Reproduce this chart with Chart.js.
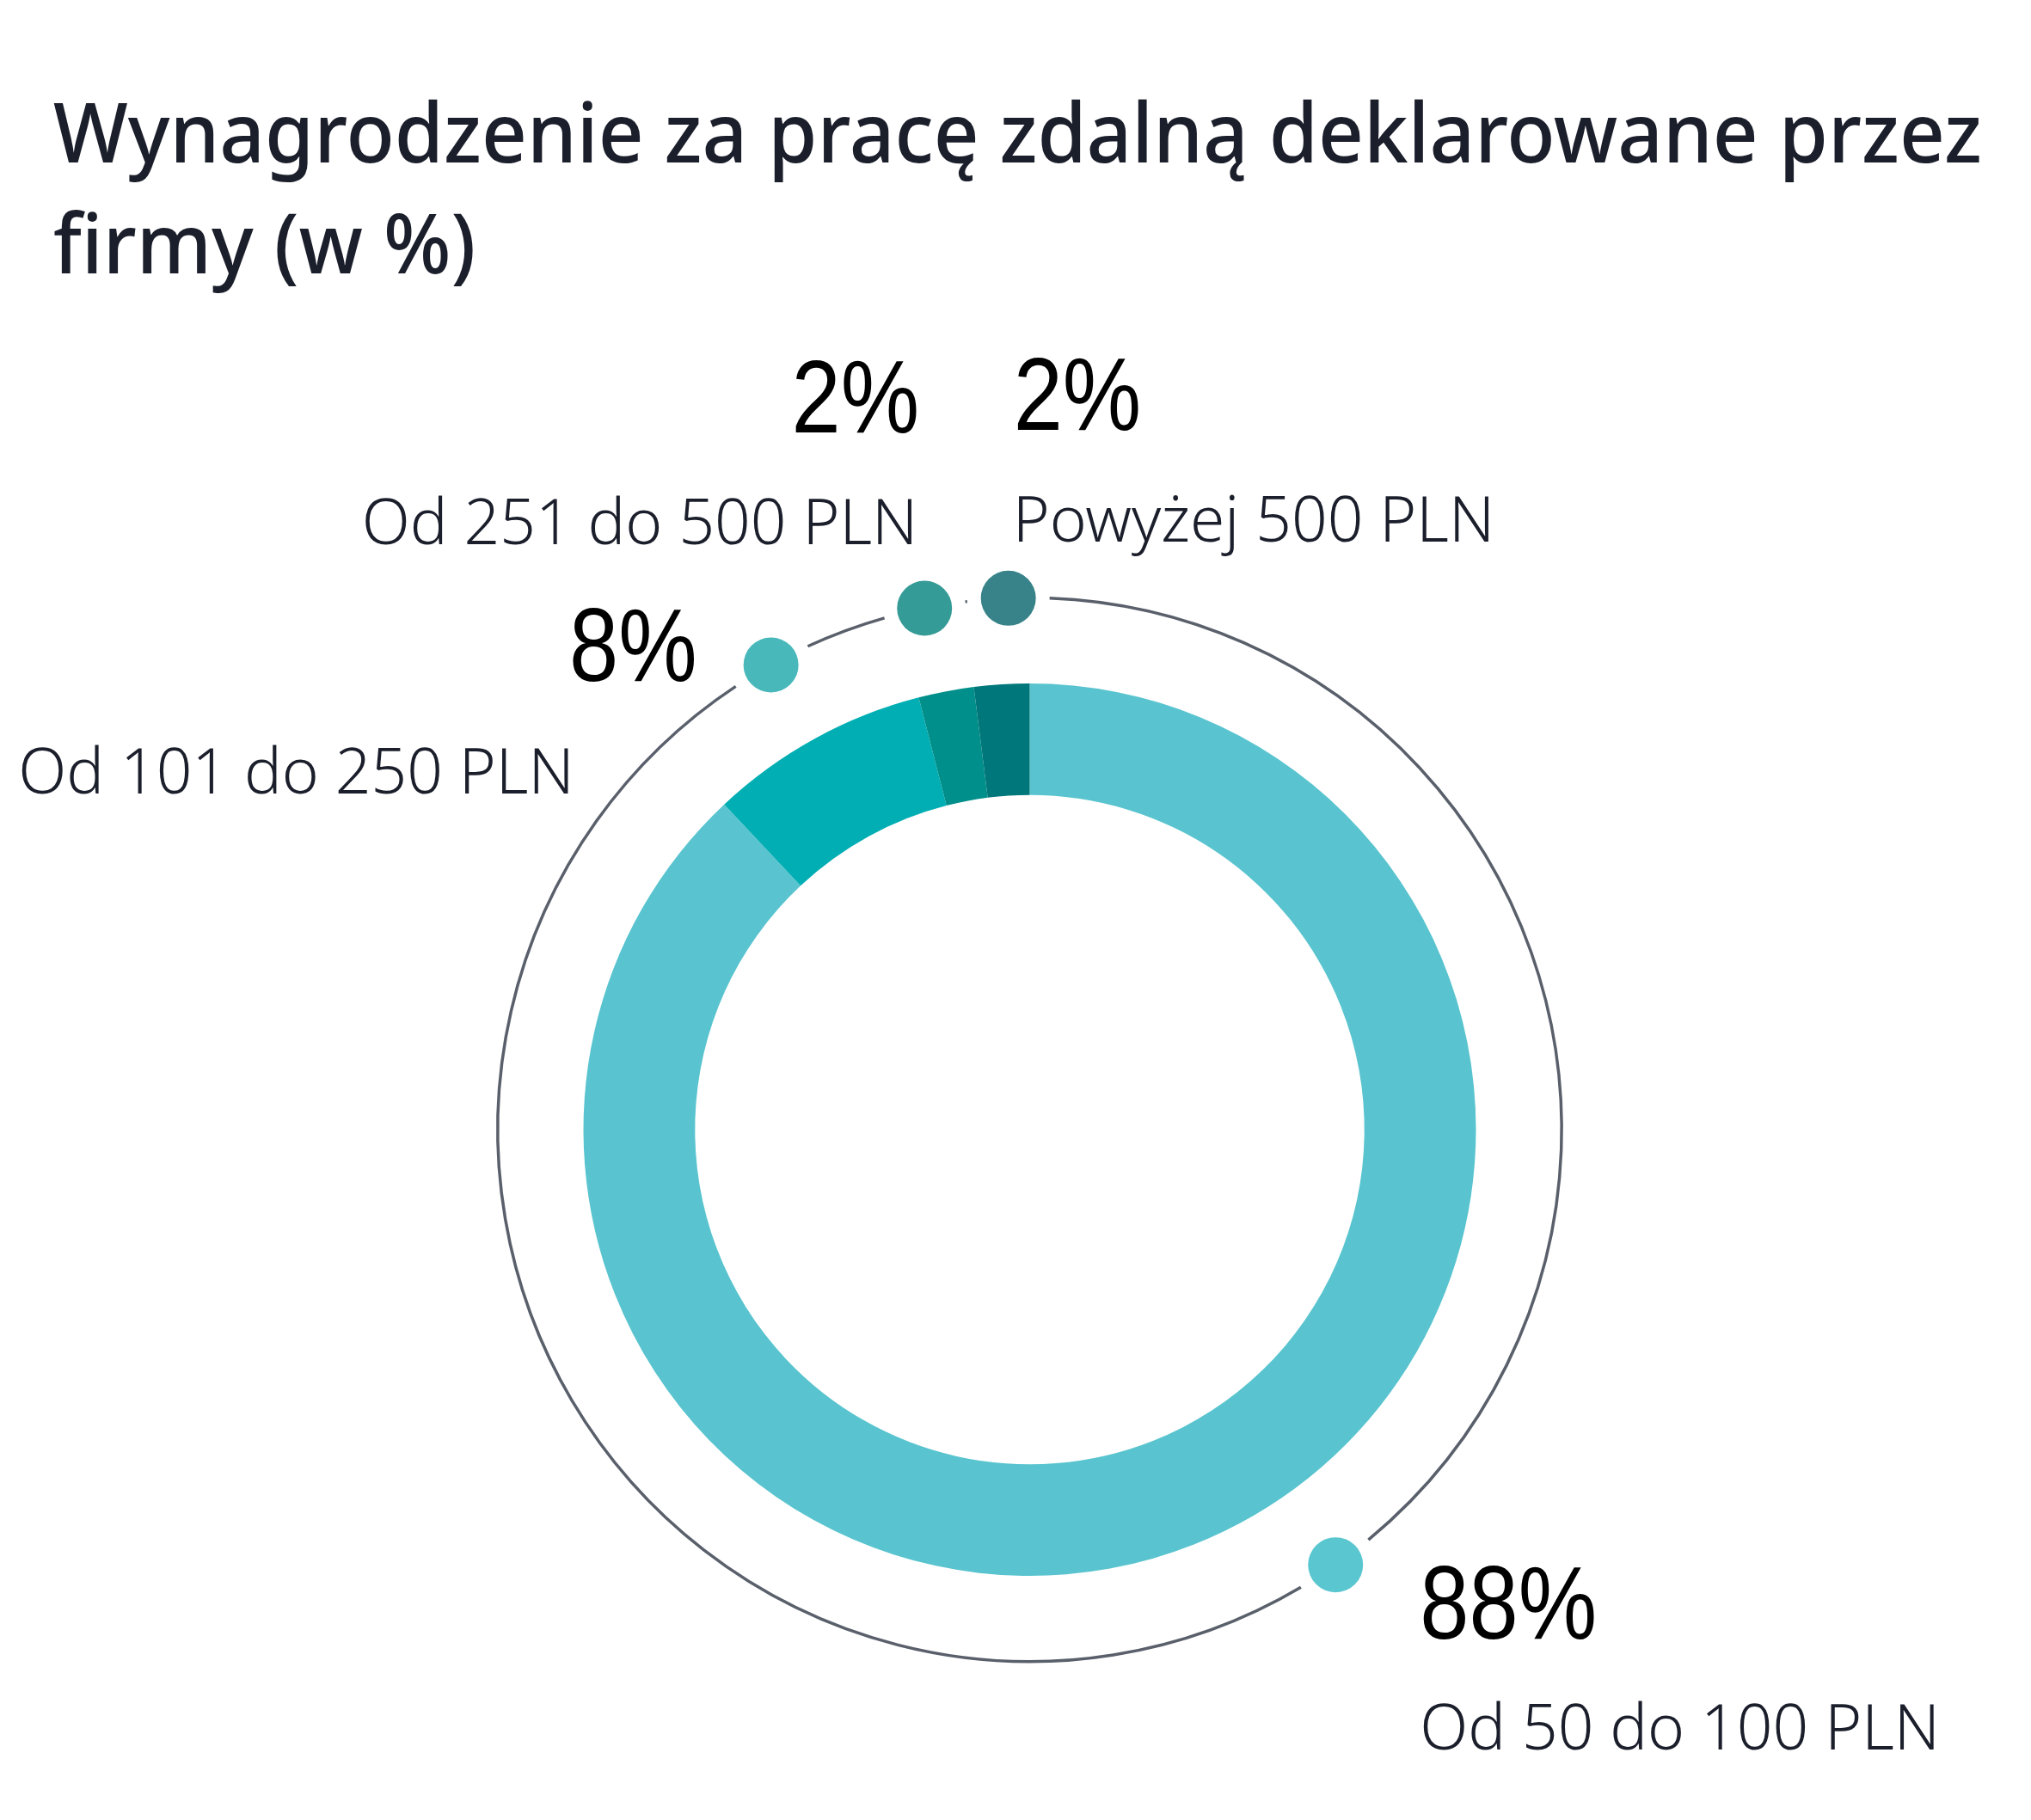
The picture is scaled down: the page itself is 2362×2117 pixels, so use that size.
<!DOCTYPE html>
<html lang="pl">
<head>
<meta charset="utf-8">
<title>Wynagrodzenie za pracę zdalną</title>
<script src="https://cdn.jsdelivr.net/npm/chart.js@4.4.1/dist/chart.umd.min.js"></script>
<style>
  html, body { margin: 0; padding: 0; background: #fff; }
  body { width: 2362px; height: 2117px; position: relative; overflow: hidden; }
  #payChart { position: absolute; left: 0; top: 0; }
  #title {
    position: absolute; left: 62px; top: 87px; margin: 0; z-index: 2;
    font-family: "Noto Sans", sans-serif; font-weight: 500; font-size: 96px;
    line-height: 129px; color: #1b1e2b; white-space: nowrap;
    transform-origin: left top;
  }
</style>
</head>
<body>
<canvas id="payChart" width="2362" height="2117"></canvas>
<h1 id="title">Wynagrodzenie za pracę zdalną deklarowane przez<br>firmy (w %)</h1>
<script>
// dane
const categories = ['Od 50 do 100 PLN', 'Od 101 do 250 PLN', 'Od 251 do 500 PLN', 'Powyżej 500 PLN'];
const shares = [88, 8, 2, 2];
const sliceColors = ['#59c4cf', '#00aeb3', '#008f8a', '#00777b'];
const dotColors = ['#5ac6d0', '#49b8bb', '#349b96', '#388389'];

// pierścień z kropkami i opisy
const ringLabels = {
    id: 'ringLabels',
    afterDatasetsDraw(chart, args, opts) {
        const ctx = chart.ctx;
        const arcs = chart.getDatasetMeta(0).data;
        if (!arcs.length) return;
        const cx = arcs[0].x, cy = arcs[0].y;
        const r = arcs[0].outerRadius * opts.ringScale;

        const dots = arcs.map((arc, i) => {
            const a = (arc.startAngle + arc.endAngle) / 2 + opts.dotShift[i] * Math.PI / 180;
            return { a: a, x: cx + r * Math.cos(a), y: cy + r * Math.sin(a) };
        });

        ctx.save();
        // okrąg z przerwami przy kropkach
        const gap = opts.gap / r;
        const angles = dots.map(d => d.a).sort((p, q) => p - q);
        ctx.strokeStyle = opts.ringColor;
        ctx.lineWidth = opts.ringWidth;
        angles.forEach((a, i) => {
            const next = i < angles.length - 1 ? angles[i + 1] : angles[0] + 2 * Math.PI;
            if (next - a > 2 * gap) {
                ctx.beginPath();
                ctx.arc(cx, cy, r, a + gap, next - gap);
                ctx.stroke();
            }
        });

        // kropki
        dots.forEach((d, i) => {
            ctx.beginPath();
            ctx.arc(d.x, d.y, opts.dotRadius, 0, 2 * Math.PI);
            ctx.fillStyle = dotColors[i];
            ctx.fill();
        });

        // teksty
        ctx.textBaseline = 'alphabetic';
        dots.forEach((d, i) => {
            const t = opts.text[i];
            ctx.textAlign = t.align;
            // liczby - wąski krój
            ctx.save();
            ctx.translate(d.x + t.pct[0], d.y + t.pct[1]);
            ctx.scale(opts.numSqueeze, 1);
            ctx.fillStyle = '#000';
            ctx.font = opts.numFont;
            ctx.fillText(shares[i] + '%', 0, 0);
            ctx.restore();
            ctx.fillStyle = '#1b1e2b';
            ctx.font = opts.nameFont;
            ctx.fillText(categories[i], d.x + t.name[0], d.y + t.name[1]);
        });
        ctx.restore();
    }
};

// tytuł ściśnięty do szerokości z oryginału
function fitTitle() {
    const m = document.createElement('canvas').getContext('2d');
    m.font = '500 96px "Noto Sans", sans-serif';
    const w = m.measureText('Wynagrodzenie za pracę zdalną deklarowane przez').width;
    if (w > 0) document.getElementById('title').style.transform = 'scaleX(' + (2243 / w) + ')';
}
fitTitle();

const canvas = document.getElementById('payChart');
new Chart(canvas, {
    type: 'doughnut',
    data: {
        labels: categories,
        datasets: [{
            data: shares,
            backgroundColor: sliceColors,
            borderWidth: 0,
            hoverOffset: 0
        }]
    },
    options: {
        responsive: false,
        animation: false,
        cutout: '75%',
        layout: { padding: { left: 678, right: 645, top: 795, bottom: 284 } },
        plugins: {
            legend: { display: false },
            tooltip: { enabled: false },
            ringLabels: {
                ringScale: 1.192,
                ringColor: '#5a606b',
                ringWidth: 3.5,
                gap: 48,
                dotRadius: 32,
                dotShift: [-13.5, -0.3, -0.6, 1.3],
                numFont: '121px "Liberation Sans", sans-serif',
                numSqueeze: 0.85,
                nameFont: '300 73px "Noto Sans", sans-serif',
                text: [
                    { align: 'left', pct: [98, 86], name: [98, 215] },
                    { align: 'right', pct: [-86, 19], name: [-229, 150] },
                    { align: 'right', pct: [-6, -205], name: [-8, -75] },
                    { align: 'left', pct: [6, -196], name: [5, -66] }
                ]
            }
        }
    },
    plugins: [ringLabels]
});
if (document.fonts) document.fonts.ready.then(fitTitle);
</script>
</body>
</html>
